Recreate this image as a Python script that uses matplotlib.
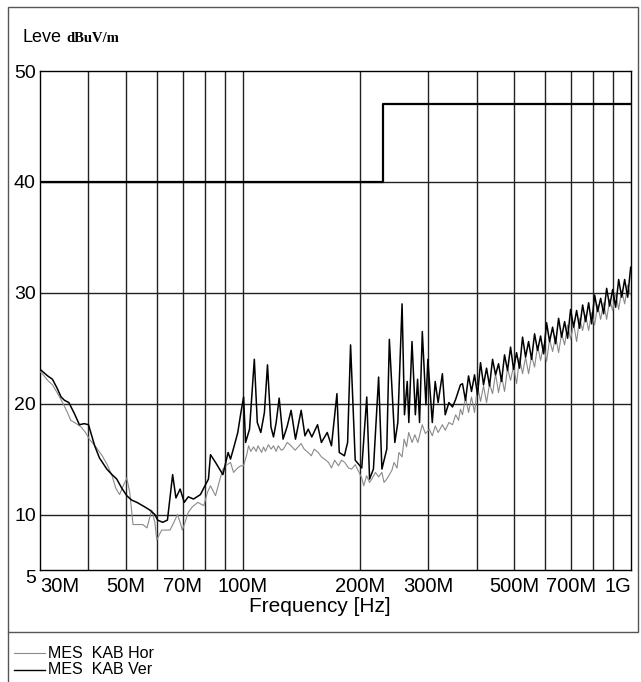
"""EMI radiated emission scan, MES KAB horizontal / vertical."""

import matplotlib

matplotlib.use("Agg")
import matplotlib.pyplot as plt
from matplotlib.lines import Line2D
from matplotlib.patches import Rectangle

plt.rcParams["font.family"] = ["Liberation Sans", "DejaVu Sans"]

# frequency in MHz, level in dBuV/m
ver_freq = [
    30.0, 31.4, 32.3, 33.2, 34.0, 34.7, 35.6, 36.8, 37.9, 39.0, 40.0, 41.5,
    42.7, 44.6, 46.0, 47.3, 48.7, 50.2, 51.7, 53.3, 55.8, 57.6, 59.3, 60.3,
    62.1, 63.9, 65.9, 67.2, 68.9, 70.6, 72.3, 74.6, 77.7, 80.1, 81.5, 82.5,
    85.0, 88.8, 91.6, 92.9, 94.8, 97.0, 98.7, 100.4, 101.6, 104.0, 107.0,
    108.9, 111.2, 113.6, 115.7, 118.1, 119.9, 121.8, 124.0, 126.9, 129.9,
    133.1, 136.6, 141.3, 144.5, 147.3, 150.5, 155.7, 159.3, 164.9, 169.1,
    174.7, 177.1, 182.6, 186.1, 189.4, 194.7, 199.1, 202.4, 208.5, 212.0,
    216.9, 223.7, 228.1, 234.8, 238.4, 246.3, 250.7, 257.1, 260.8, 265.1,
    267.6, 272.7, 278.2, 281.9, 285.2, 289.9, 296.2, 299.6, 307.6, 312.9,
    318.4, 326.6, 332.1, 339.5, 346.8, 353.4, 363.5,
    368.0, 374.6, 381.4, 388.2, 395.2, 402.3, 409.5, 416.9, 424.4, 432.0,
    439.8, 447.7, 455.7, 463.9, 472.2, 480.7, 489.4, 498.2, 507.1, 516.2,
    525.5, 535.0, 544.6, 554.4, 564.3, 574.5, 584.8, 595.3, 606.0, 616.9,
    628.0, 639.3, 650.8, 662.5, 674.4, 686.5, 698.8, 711.4, 724.2, 737.2,
    750.5, 764.0, 777.7, 791.7, 805.9, 820.4, 835.2, 850.2, 865.5, 881.1,
    896.9, 913.0, 929.4, 946.1, 963.1, 980.4, 998.0,
]
ver_level = [
    23.1, 22.5, 22.2, 21.4, 20.6, 20.3, 20.1, 19.1, 18.1, 18.2, 18.1, 16.2,
    15.1, 14.1, 13.6, 13.2, 12.4, 11.7, 11.3, 11.1, 10.7, 10.4, 10.0, 9.5,
    9.3, 9.5, 13.6, 11.5, 12.3, 11.1, 11.6, 11.4, 11.8, 12.7, 13.2, 15.4,
    14.7, 13.6, 15.6, 15.0, 16.1, 17.4, 19.1, 20.6, 16.5, 17.7, 24.0,
    18.3, 17.4, 19.2, 23.5, 17.9, 17.0, 18.3, 20.5, 16.8, 17.9,
    19.4, 16.8, 19.4, 17.1, 17.7, 17.0, 18.1, 16.5, 17.4, 16.2,
    20.9, 15.6, 15.3, 16.5, 25.3, 14.9, 14.5, 14.2, 20.6, 13.2,
    14.1, 22.4, 14.1, 15.9, 25.8, 16.5, 18.3, 29.0, 19.0, 22.0,
    18.3, 25.6, 19.0, 22.2, 18.3, 26.5, 19.9, 24.0, 18.3, 22.0,
    20.1, 22.7, 19.0, 20.1, 19.7, 20.4, 21.7,
    21.8, 20.3, 22.5, 21.1, 22.6, 20.8, 23.7, 21.7, 23.2, 21.6,
    24.0, 22.6, 23.6, 22.0, 24.4, 23.0, 25.1, 23.1, 24.6, 23.2,
    26.0, 24.2, 25.6, 24.0, 26.3, 24.8, 26.1, 24.5, 27.3, 25.6,
    26.9, 25.4, 27.7, 26.0, 27.4, 25.9, 28.5, 26.9, 28.4, 26.8,
    28.9, 27.4, 29.1, 27.2, 29.8, 28.3, 29.5, 28.1, 30.4, 28.8,
    30.3, 28.7, 31.2, 29.6, 31.2, 29.6, 32.3,
]

hor_freq = [
    30.0, 30.4, 31.4, 32.3, 33.2, 34.3, 35.3, 36.0, 37.2, 38.3, 39.3, 40.2,
    41.8, 43.4, 44.7, 46.0, 47.0, 48.1, 49.3, 50.2, 51.1, 52.1, 53.6, 55.2,
    56.6, 58.2, 59.3, 60.0, 61.1, 61.8, 63.3, 64.9, 66.6, 67.8, 68.9, 69.8,
    71.1, 72.3, 74.1, 76.5, 79.3, 81.0, 82.5, 85.0, 86.8, 88.8, 91.0, 92.9,
    94.6, 96.9, 98.7, 100.4, 102.3, 103.4, 104.8, 106.5, 108.2, 109.4,
    111.7, 113.0, 114.3, 116.3, 118.2, 119.9, 121.8, 123.3, 125.6, 127.1,
    130.1, 133.1, 136.3, 138.8, 141.3, 143.8, 147.3, 150.0, 152.7, 156.3,
    159.3, 162.2, 166.2, 169.1, 172.3, 176.3, 179.5, 183.0, 187.1, 190.6,
    194.7, 199.1, 202.4, 204.8, 208.3, 212.0, 214.8, 219.5, 223.7, 228.1,
    231.0, 234.8, 237.6, 242.1, 245.1, 249.5, 252.3, 257.1, 260.3, 264.1,
    267.4, 272.9, 277.3, 282.3, 289.8, 295.2, 302.3, 307.6, 313.0, 318.4,
    326.6, 332.1, 339.5, 346.8, 353.4, 359.5, 363.5,
    368.0, 374.6, 381.4, 388.2, 395.2, 402.3, 409.5, 416.9, 424.4, 432.0,
    439.8, 447.7, 455.7, 463.9, 472.2, 480.7, 489.4, 498.2, 507.1, 516.2,
    525.5, 535.0, 544.6, 554.4, 564.3, 574.5, 584.8, 595.3, 606.0, 616.9,
    628.0, 639.3, 650.8, 662.5, 674.4, 686.5, 698.8, 711.4, 724.2, 737.2,
    750.5, 764.0, 777.7, 791.7, 805.9, 820.4, 835.2, 850.2, 865.5, 881.1,
    896.9, 913.0, 929.4, 946.1, 963.1, 980.4, 998.0,
]
hor_level = [
    22.9, 22.7, 22.1, 21.7, 21.0, 20.1, 19.2, 18.5, 18.2, 17.9, 17.4, 16.8,
    16.1, 15.3, 14.5, 13.5, 12.4, 11.8, 12.7, 13.3, 12.0, 9.1, 9.1, 9.1,
    8.8, 10.4, 9.3, 7.7, 8.3, 8.6, 8.6, 8.6, 9.4, 10.0, 9.3, 8.6,
    9.4, 10.2, 10.7, 11.1, 10.8, 12.0, 12.6, 11.7, 12.9, 14.1, 14.5, 14.7,
    13.8, 14.2, 14.4, 14.4, 15.4, 16.2, 15.7, 16.1, 15.7, 16.2,
    15.6, 16.1, 15.7, 16.3, 15.9, 16.2, 15.7, 16.2, 15.8, 15.9,
    16.5, 16.2, 15.8, 16.1, 16.4, 15.9, 15.6, 15.3, 15.9, 15.6,
    15.2, 15.0, 14.7, 14.2, 14.9, 14.4, 14.9, 14.7, 14.2, 14.1,
    14.5, 13.8, 13.3, 12.6, 13.5, 12.9, 13.2, 13.8, 13.4, 13.8,
    12.9, 13.2, 13.5, 14.0, 14.7, 14.2, 15.6, 15.2, 16.8, 16.1,
    17.4, 16.5, 17.2, 16.5, 18.1, 17.3, 17.7, 17.1, 18.0, 17.4,
    18.1, 17.6, 18.3, 18.1, 19.0, 18.5, 19.5,
    19.0, 20.6, 19.2, 20.6, 19.2, 21.6, 20.2, 21.6, 20.1, 21.8,
    20.9, 22.7, 21.0, 22.5, 21.1, 23.2, 22.1, 23.4, 21.8, 24.1,
    22.7, 24.2, 22.7, 24.3, 23.3, 25.2, 23.9, 25.3, 23.8, 25.8,
    24.7, 26.1, 24.6, 26.3, 25.3, 27.1, 25.8, 27.2, 25.6, 27.7,
    26.6, 28.0, 26.6, 28.2, 27.1, 28.9, 27.6, 29.1, 27.6, 29.4,
    28.4, 30.0, 28.5, 30.2, 29.0, 30.7, 29.8,
]

# limit line (dBuV/m)
limit_freq = [30, 230, 230, 1000]
limit_level = [40, 40, 47, 47]

x_ticks = [30, 50, 70, 100, 200, 300, 500, 700, 1000]
x_labels = ["30M", "50M", "70M", "100M", "200M", "300M", "500M", "700M", "1G"]
x_grid = [40, 50, 60, 70, 80, 90, 100, 200, 300, 400, 500, 600, 700, 800, 900]
y_ticks = [5, 10, 20, 30, 40, 50]

W, H = 641, 682
fig = plt.figure(figsize=(W / 100, H / 100), dpi=100)
ax = fig.add_axes([40 / W, 1 - 570 / H, 591 / W, 499 / H])

ax.set_xscale("log")
ax.set_xlim(30, 1000)
ax.set_ylim(5, 50)

for f in x_grid:
    ax.axvline(f, color="#222222", lw=1.0, zorder=1)
for v in [10, 20, 30, 40]:
    ax.axhline(v, color="#222222", lw=1.0, zorder=1)

ax.plot(limit_freq, limit_level, color="black", lw=1.6, zorder=2)
ax.plot(hor_freq, hor_level, color="#8a8a8a", lw=0.8, zorder=3)
ax.plot(ver_freq, ver_level, color="black", lw=1.1, zorder=4)

ax.set_xticks(x_ticks)
ax.set_xticklabels(x_labels, fontsize=14.5)
ax.xaxis.set_minor_locator(plt.NullLocator())
labels = ax.get_xticklabels()
labels[0].set_ha("left")
labels[-1].set_ha("right")
ax.set_yticks(y_ticks)
ax.set_yticklabels([str(v) for v in y_ticks], fontsize=14)
ax.get_yticklabels()[0].set_va("top")
ax.tick_params(length=0, pad=3)
ax.tick_params(axis="x", pad=5)
ax.set_xlabel("Frequency [Hz]", fontsize=15, va="center")
ax.xaxis.set_label_coords((320 - 40) / 591, -(606 - 570) / 499)
for s in ax.spines.values():
    s.set_linewidth(1.0)

fig.text(22 / W, 1 - 37 / H, "Leve", fontsize=13, va="center")
fig.text(66 / W, 1 - 38 / H, "dBuV/m", fontsize=10.5, va="center",
         family="Liberation Serif", weight="bold")

# page frame and legend box
fig.patches.append(Rectangle((8 / W, 1 - 632 / H), 630 / W, 625 / H,
                             transform=fig.transFigure, fill=False,
                             lw=1.0, ec="#555555"))
fig.lines.append(Line2D([8 / W, 8 / W], [0, 1 - 632 / H],
                        transform=fig.transFigure, lw=1.0, color="#555555"))
fig.lines.append(Line2D([14 / W, 45 / W], [1 - 653 / H] * 2,
                        transform=fig.transFigure, lw=0.8, color="#8a8a8a"))
fig.lines.append(Line2D([14 / W, 45 / W], [1 - 670 / H] * 2,
                        transform=fig.transFigure, lw=1.0, color="black"))
fig.text(48 / W, 1 - 653 / H, "MES  KAB Hor", fontsize=11.5, va="center")
fig.text(48 / W, 1 - 670 / H, "MES  KAB Ver", fontsize=11.5, va="center")

fig.savefig("out.png", dpi=100)
